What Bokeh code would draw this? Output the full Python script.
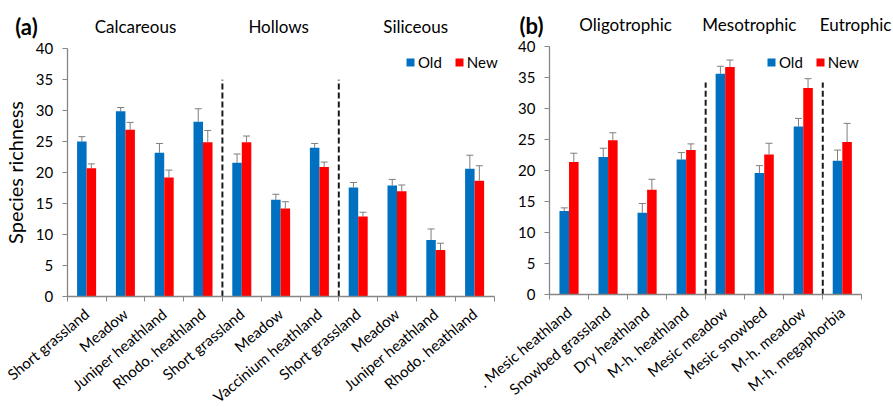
import math
from bokeh.plotting import figure
from bokeh.models import (Range1d, FixedTicker, Whisker, TeeHead, ColumnDataSource,
                          Legend, LegendItem, Label, LinearAxis)
from bokeh.embed import file_html
from bokeh.resources import INLINE

FONT = "Lato"
OLD_COLOR = "#0070C0"
NEW_COLOR = "#FF0000"
AXIS_COLOR = "#868686"
ERR_COLOR = "#7F7F7F"

# ---------------- Panel (a) data ----------------
a_categories = ["Short grassland", "Meadow", "Juniper heathland", "Rhodo. heathland",
                "Short grassland", "Meadow", "Vaccinium heathland",
                "Short grassland", "Meadow", "Juniper heathland", "Rhodo. heathland"]
a_groups = ["Calcareous", "Hollows", "Siliceous"]
a_group_sizes = [4, 3, 4]
a_old = [25.0, 29.9, 23.2, 28.2, 21.6, 15.6, 24.0, 17.6, 17.9, 9.1, 20.6]
a_new = [20.7, 26.9, 19.2, 24.9, 24.9, 14.2, 20.9, 12.9, 17.0, 7.5, 18.7]
a_old_err = [0.8, 0.6, 1.5, 2.1, 1.4, 0.9, 0.7, 0.8, 1.0, 1.8, 2.2]
a_new_err = [0.7, 1.2, 1.2, 1.9, 1.0, 1.1, 0.8, 0.7, 1.0, 1.1, 2.4]

# ---------------- Panel (b) data ----------------
b_categories = [". Mesic heathland", "Snowbed grassland", "Dry heathland", "M-h. heathland",
                "Mesic meadow", "Mesic snowbed", "M-h. meadow", "M-h. megaphorbia"]
b_groups = ["Oligotrophic", "Mesotrophic", "Eutrophic"]
b_group_sizes = [4, 3, 1]
b_old = [13.5, 22.2, 13.2, 21.8, 35.6, 19.6, 27.1, 21.6]
b_new = [21.4, 24.9, 16.9, 23.3, 36.7, 22.6, 33.3, 24.6]
b_old_err = [0.5, 1.4, 1.5, 1.1, 1.2, 1.2, 1.3, 1.7]
b_new_err = [1.4, 1.2, 1.7, 1.0, 1.1, 1.8, 1.5, 3.0]

series_names = ["Old", "New"]
y_ticks = [0, 5, 10, 15, 20, 25, 30, 35, 40]
y_max = 40
y_label = "Species richness"

W, H = 893, 407

# pixel geometry of each panel: origin (x, y of the 0/0 corner), px per category, px per unit
a_geo = dict(ox=66.7, oy=296.0, sx=38.8, sy=6.196)
b_geo = dict(ox=549.0, oy=294.3, sx=39.04, sy=6.21)


def xr(g):
    s = -g["ox"] / g["sx"]
    return Range1d(s, s + W / g["sx"])


def yr(g):
    return Range1d(-(H - g["oy"]) / g["sy"], g["oy"] / g["sy"])


p = figure(width=W, height=H, x_range=xr(a_geo), y_range=yr(a_geo),
           output_backend="svg", toolbar_location=None, min_border=0,
           min_border_left=0, min_border_right=0, min_border_top=0, min_border_bottom=0)
p.extra_x_ranges = {"b": xr(b_geo)}
p.extra_y_ranges = {"b": yr(b_geo)}
p.outline_line_color = None
p.xgrid.visible = False
p.ygrid.visible = False


def style_axes(xa, ya, cats, show_ylabel):
    n = len(cats)
    centers = [i + 0.5 for i in range(n)]
    xa.fixed_location = 0
    xa.bounds = (0, n)
    xa.ticker = FixedTicker(ticks=centers, minor_ticks=list(range(n + 1)))
    xa.major_label_overrides = {c: name for c, name in zip(centers, cats)}
    xa.major_label_orientation = math.radians(40)
    xa.major_tick_out = 0
    xa.major_tick_in = 0
    xa.minor_tick_out = 5
    xa.minor_tick_in = 0
    xa.minor_tick_line_color = AXIS_COLOR
    xa.axis_line_color = AXIS_COLOR
    xa.axis_line_width = 1.3
    xa.major_label_text_font = FONT
    xa.major_label_text_font_size = "15px"
    xa.major_label_text_color = "black"
    xa.major_label_standoff = 10

    ya.fixed_location = 0
    ya.bounds = (0, y_max)
    ya.ticker = FixedTicker(ticks=y_ticks)
    ya.major_tick_out = 5
    ya.major_tick_in = 0
    ya.minor_tick_line_color = None
    ya.major_tick_line_color = AXIS_COLOR
    ya.axis_line_color = AXIS_COLOR
    ya.axis_line_width = 1.3
    ya.major_label_text_font = FONT
    ya.major_label_text_font_size = "15px"
    ya.major_label_text_color = "black"
    ya.major_label_standoff = 9
    if show_ylabel:
        ya.axis_label = y_label
        ya.axis_label_text_font = FONT
        ya.axis_label_text_font_size = "20px"
        ya.axis_label_text_font_style = "normal"
        ya.axis_label_text_color = "black"
        ya.axis_label_standoff = 6


def draw_panel(rn, cats, groups, sizes, old, new, old_err, new_err, letter, letter_xy,
               title_x, dash_top, legend_loc):
    rk = dict(x_range_name=rn, y_range_name=rn)
    n = len(cats)
    centers = [i + 0.5 for i in range(n)]
    bw = 0.245
    src_old = ColumnDataSource(dict(x=[c - bw / 2 for c in centers], top=old,
                                    upper=[v + e for v, e in zip(old, old_err)]))
    src_new = ColumnDataSource(dict(x=[c + bw / 2 for c in centers], top=new,
                                    upper=[v + e for v, e in zip(new, new_err)]))
    r_old = p.vbar(x="x", top="top", bottom=0, width=bw, source=src_old,
                   fill_color=OLD_COLOR, line_color=None, **rk)
    r_new = p.vbar(x="x", top="top", bottom=0, width=bw, source=src_new,
                   fill_color=NEW_COLOR, line_color=None, **rk)
    for src in (src_old, src_new):
        p.add_layout(Whisker(base="x", lower="top", upper="upper", source=src,
                             line_color=ERR_COLOR, line_width=1,
                             upper_head=TeeHead(size=7, line_color=ERR_COLOR, line_width=1),
                             lower_head=None, **rk))

    bounds = []
    acc = 0
    for s in sizes[:-1]:
        acc += s
        bounds.append(acc)
    p.segment(x0=bounds, y0=[0] * len(bounds), x1=bounds, y1=[dash_top] * len(bounds),
              line_color="#1a1a1a", line_width=2, line_dash="6 3", **rk)

    for g, tx in zip(groups, title_x):
        p.add_layout(Label(x=tx, y=43.5, text=g, text_font=FONT, text_font_size="17px",
                           text_align="center", text_baseline="middle",
                           text_color="black", **rk))
    p.add_layout(Label(x=letter_xy[0], y=letter_xy[1], text=letter, text_font=FONT,
                       text_font_size="22px", text_font_style="bold",
                       text_align="center", text_baseline="middle", text_color="black", **rk))

    legend = Legend(items=[LegendItem(label=series_names[0], renderers=[r_old]),
                           LegendItem(label=series_names[1], renderers=[r_new])],
                    orientation="horizontal", location=legend_loc,
                    padding=0, margin=0, spacing=12, label_standoff=3,
                    glyph_width=10, glyph_height=10,
                    label_text_font=FONT, label_text_font_size="15px",
                    label_text_color="black",
                    background_fill_alpha=0, border_line_color=None)
    p.add_layout(legend)


# panel (a) uses the default ranges and axes
style_axes(p.xaxis[0], p.yaxis[0], a_categories, True)
draw_panel("default", a_categories, a_groups, a_group_sizes, a_old, a_new, a_old_err,
           a_new_err, "(a)", (-1.05, 43.6), [1.76, 5.45, 8.98], 35, (405, 336))

# panel (b) uses its own ranges and axes
xb = LinearAxis(x_range_name="b", y_range_name="b")
yb = LinearAxis(x_range_name="b", y_range_name="b")
p.add_layout(xb, "below")
p.add_layout(yb, "left")
style_axes(xb, yb, b_categories, False)
draw_panel("b", b_categories, b_groups, b_group_sizes, b_old, b_new, b_old_err,
           b_new_err, "(b)", (-0.46, 43.4), [1.95, 5.12, 7.84], 34.2, (766, 336))

open("out.html", "w").write(file_html(p, INLINE))
